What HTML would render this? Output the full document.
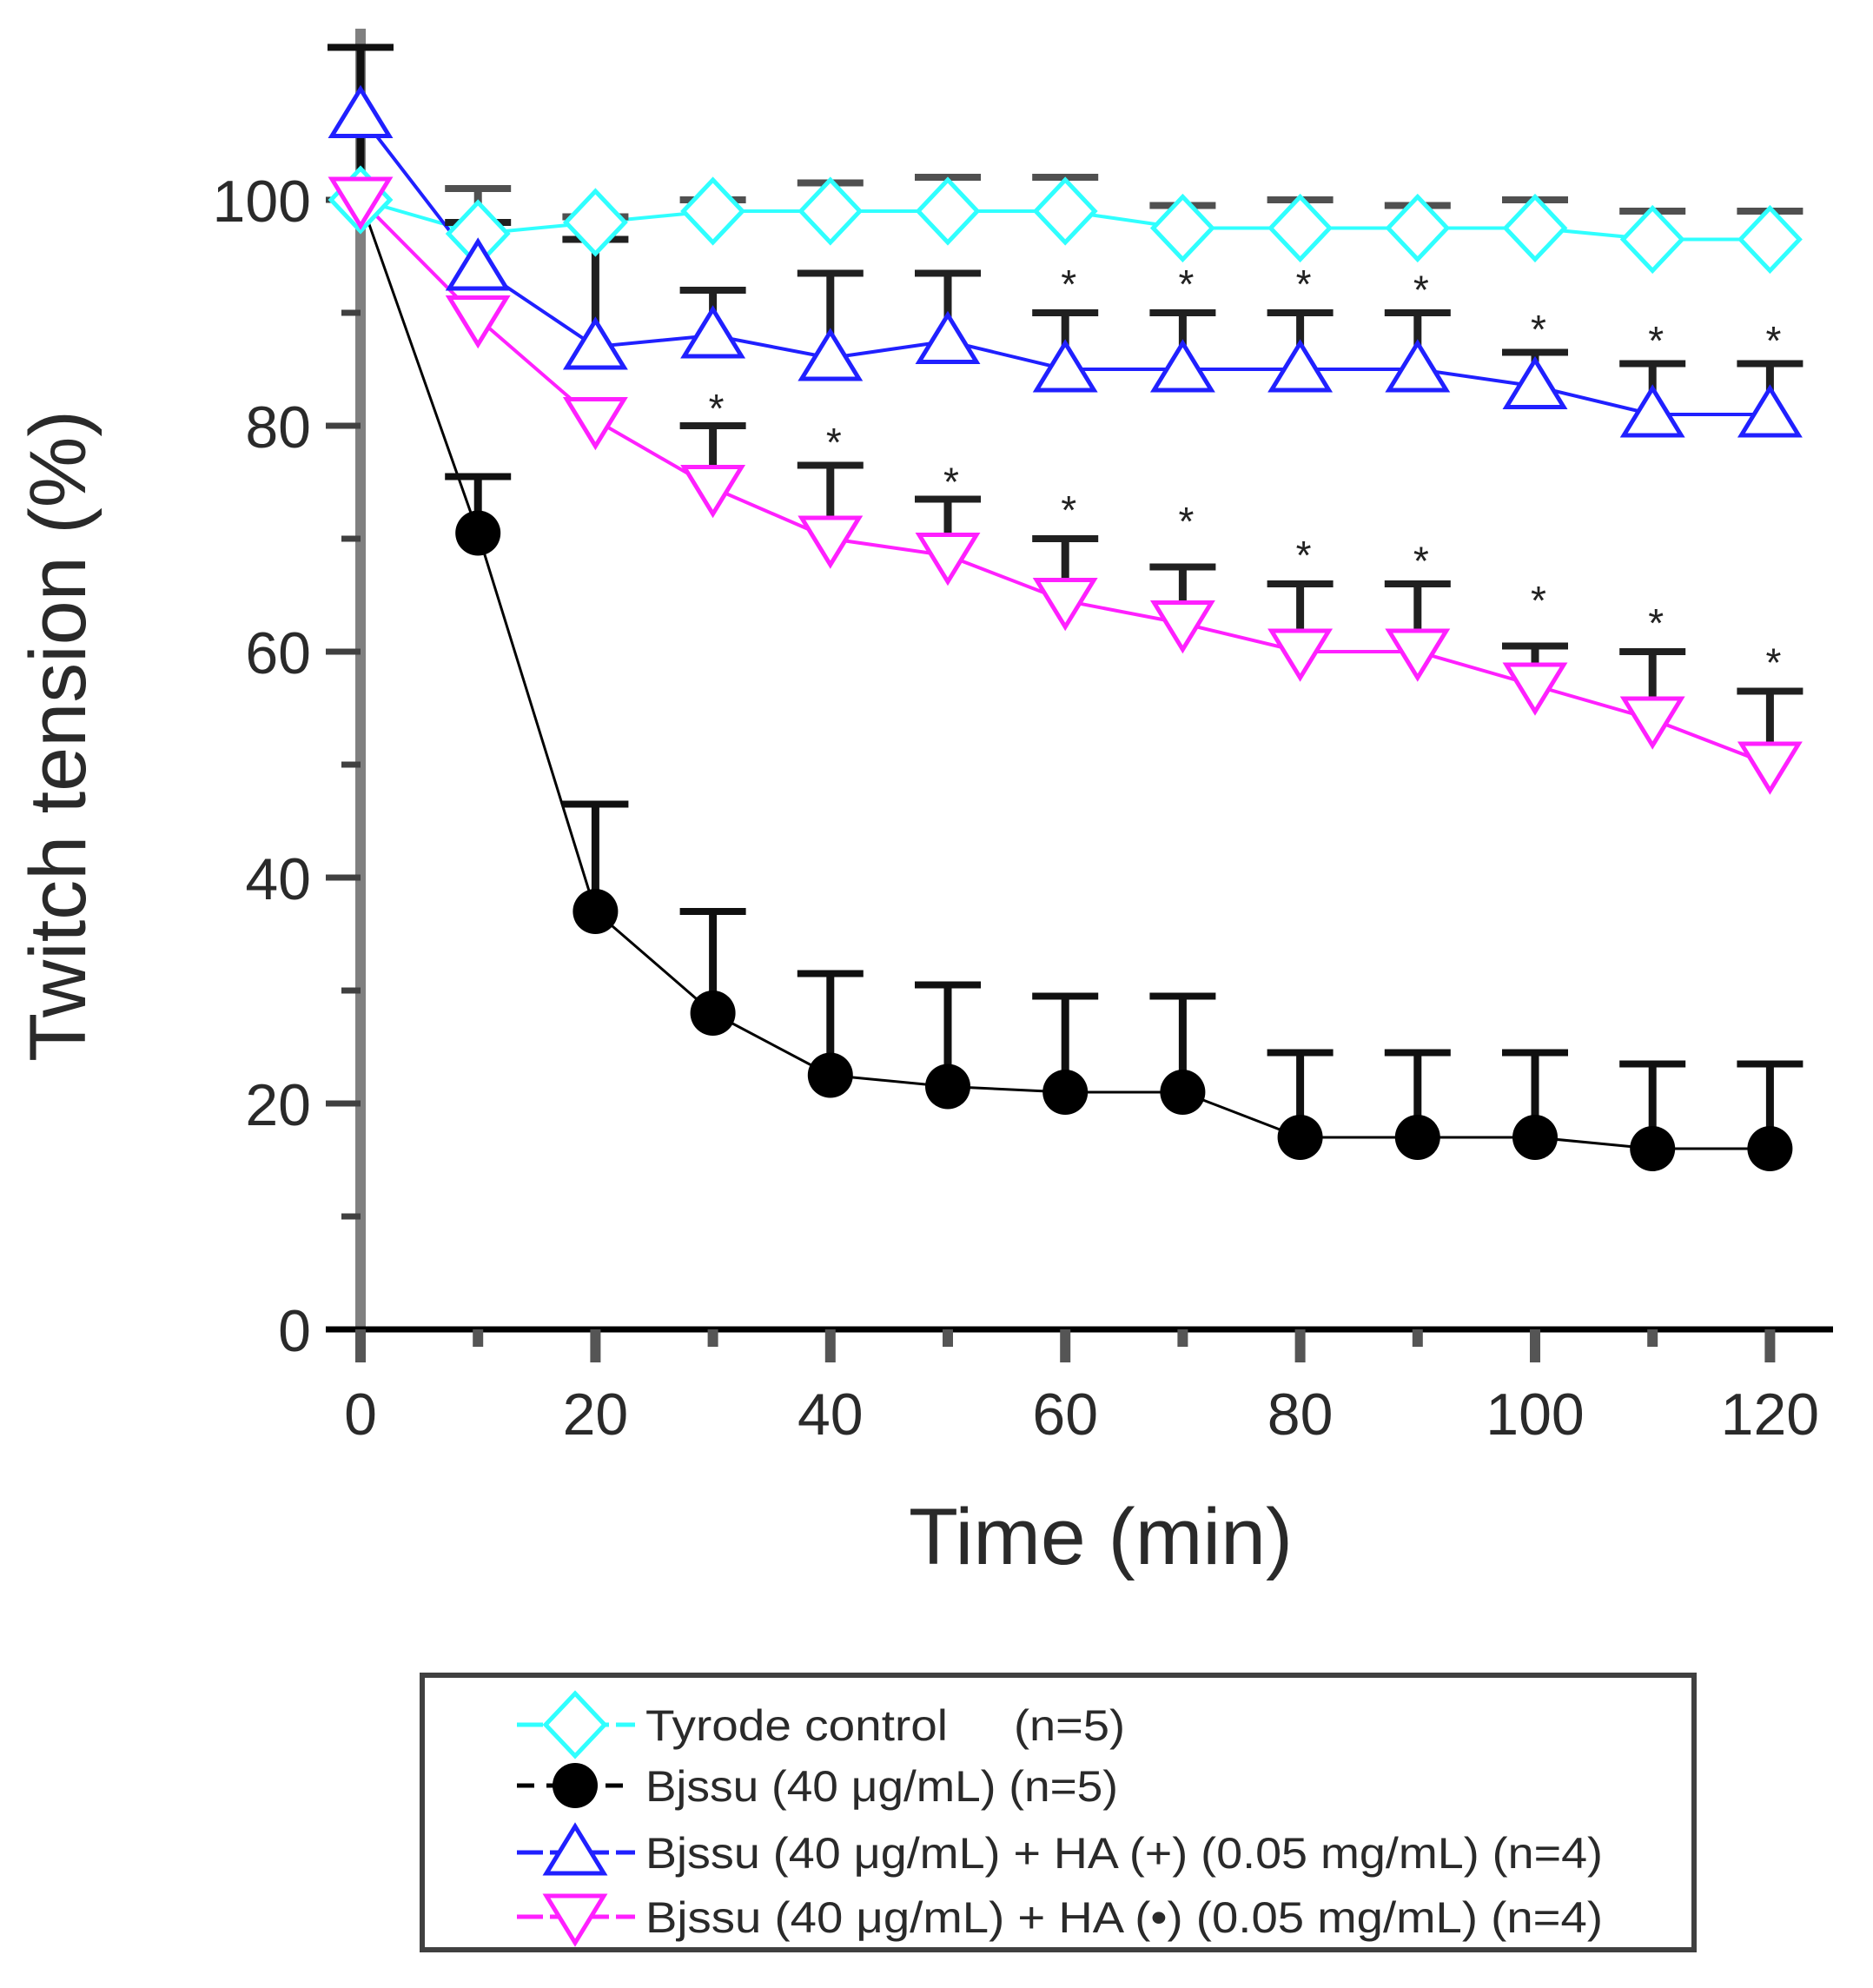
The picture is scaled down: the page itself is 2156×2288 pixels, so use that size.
<!DOCTYPE html>
<html><head><meta charset="utf-8"><style>
html,body{margin:0;padding:0;background:#fff;}
svg{display:block;}
</style></head><body>
<svg id="c" xmlns="http://www.w3.org/2000/svg" width="2156" height="2288" viewBox="0 0 2156 2288"></svg>
<script>
const X=t=>415+t*13.52, Y=v=>1530-v*13;
const T=[0,10,20,30,40,50,60,70,80,90,100,110,120];
const S=[
 {c:'#30ffff',m:'d',v:[100,97,98,99,99,99,99,97.5,97.5,97.5,97.5,96.5,96.5],e:[null,101,98.5,100,101.5,102,102,99.5,100,99.5,100,99,99],ec:'#505050'},
 {c:'#ff20ff',m:'v',v:[100,89.5,80.5,74.5,70,68.5,64.5,62.5,60,60,57,54,50],e:[null,null,null,80,76.5,73.5,70,67.5,66,66,60.5,60,56.5],ec:'#202020'},
 {c:'#2020ff',m:'u',v:[107.5,94,87,88,86,87.5,85,85,85,85,83.5,81,81],e:[null,98,96.5,92,93.5,93.5,90,90,90,90,86.5,85.5,85.5],ec:'#202020'},
 {c:'#000',m:'o',v:[100,70.5,37,28,22.5,21.5,21,21,17,17,17,16,16],e:[113.5,75.5,46.5,37,31.5,30.5,29.5,29.5,24.5,24.5,24.5,23.5,23.5],ec:'#101010'}
];
let s='';
function mk(m,x,y,c){
 if(m=='d') return `<polygon points="${x},${y-36} ${x+34},${y} ${x},${y+36} ${x-34},${y}" fill="#fff" stroke="${c}" stroke-width="5"/>`;
 if(m=='u') return `<polygon points="${x},${y-30} ${x+33},${y+24} ${x-33},${y+24}" fill="#fff" stroke="${c}" stroke-width="5"/>`;
 if(m=='v') return `<polygon points="${x},${y+30} ${x+33},${y-24} ${x-33},${y-24}" fill="#fff" stroke="${c}" stroke-width="5"/>`;
 return `<circle cx="${x}" cy="${y}" r="26" fill="#000"/>`;
}
s+=`<line x1="415" y1="33" x2="415" y2="1567" stroke="#808080" stroke-width="12"/>`;
for(let v=0;v<=100;v+=10){const y=Y(v);const L=v%20==0?40:22;s+=`<line x1="${415-L}" y1="${y}" x2="415" y2="${y}" stroke="#404040" stroke-width="7"/>`;}
s+=`<line x1="375" y1="1530" x2="2110" y2="1530" stroke="#000" stroke-width="7"/>`;
for(const t of T){const x=X(t);const L=t%20==0?38:20;s+=`<line x1="${x}" y1="1530" x2="${x}" y2="${1530+L}" stroke="#555" stroke-width="12"/>`;}
for(let v=0;v<=100;v+=20){s+=`<text x="358" y="${Y(v)+25}" text-anchor="end" font-size="68" fill="#2a2a2a">${v}</text>`;}
for(let t=0;t<=120;t+=20){s+=`<text x="${X(t)}" y="1651" text-anchor="middle" font-size="68" fill="#2a2a2a">${t}</text>`;}
s+=`<text x="1267" y="1800" text-anchor="middle" font-size="92" fill="#2a2a2a" textLength="442" lengthAdjust="spacingAndGlyphs">Time (min)</text>`;
s+=`<text transform="translate(98,847) rotate(-90)" text-anchor="middle" font-size="92" fill="#2a2a2a" textLength="750" lengthAdjust="spacingAndGlyphs">Twitch tension (%)</text>`;
for(const q of S){s+=`<polyline fill="none" stroke="${q.c}" stroke-width="${q.m=='o'?3:4}" points="${T.map((t,i)=>X(t)+','+Y(q.v[i])).join(' ')}"/>`;}
for(const q of S){T.forEach((t,i)=>{if(q.e[i]==null)return;const x=X(t);s+=`<line x1="${x}" y1="${Y(q.v[i])}" x2="${x}" y2="${Y(q.e[i])}" stroke="${q.ec}" stroke-width="9"/><line x1="${x-38}" y1="${Y(q.e[i])}" x2="${x+38}" y2="${Y(q.e[i])}" stroke="${q.ec}" stroke-width="8"/>`;});}
for(const k of [3,0,2,1]){const q=S[k];T.forEach((t,i)=>{s+=mk(q.m,X(t),Y(q.v[i]),q.c);});}
const st=[[30,82],[40,79],[50,75.5],[60,73],[70,72],[80,69],[90,68.5],[100,65],[110,63],[120,59.5],[60,93],[70,93],[80,93],[90,92.5],[100,89],[110,88],[120,88]];
for(const [t,v] of st){s+=`<text x="${X(t)+4}" y="${Y(v)+22}" text-anchor="middle" font-size="46" fill="#222">*</text>`;}
s+=`<rect x="486" y="1928" width="1464" height="316" fill="#fff" stroke="#404040" stroke-width="6"/>`;
const LG=[[1985,'#30ffff','d','Tyrode control','(n=5)'],[2055,'#000','o','Bjssu (40 μg/mL) (n=5)',''],[2132,'#2020ff','u','Bjssu (40 μg/mL) + HA (+) (0.05 mg/mL) (n=4)',''],[2206,'#ff20ff','v','Bjssu (40 μg/mL) + HA (•)  (0.05 mg/mL) (n=4)','']];
const LL=[0,544,1102,1102];
LG.forEach((r,i)=>{const [y,c,m,tx,n]=r;s+=`<line x1="595" y1="${y}" x2="731" y2="${y}" stroke="${c}" stroke-width="5" stroke-dasharray="${m=='o'?'20 14':'30 8'}"/>`+mk(m,662,y,c);
 if(i==0){s+=`<text x="743" y="${y+18}" font-size="50" fill="#2a2a2a" textLength="348" lengthAdjust="spacingAndGlyphs">${tx}</text><text x="1167" y="${y+18}" font-size="50" fill="#2a2a2a" textLength="128" lengthAdjust="spacingAndGlyphs">${n}</text>`;}
 else s+=`<text x="743" y="${y+18}" font-size="50" fill="#2a2a2a" textLength="${LL[i]}" lengthAdjust="spacingAndGlyphs">${tx}</text>`;});
const svg=document.getElementById('c');
svg.setAttribute('font-family','Liberation Sans, sans-serif');
svg.innerHTML=s;
</script>
</body></html>
